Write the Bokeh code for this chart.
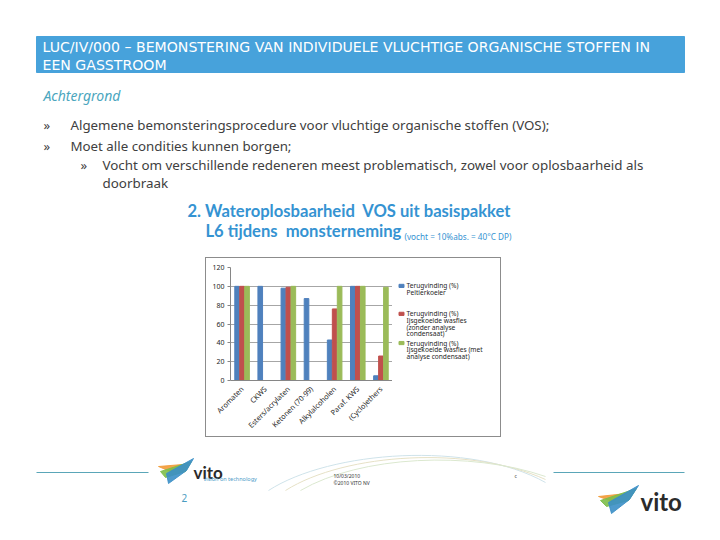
from math import pi
from bokeh.plotting import figure
from bokeh.models import Range1d, FactorRange, Spacer, ColumnDataSource, FixedTicker
from bokeh.layouts import column, row
from bokeh.transform import dodge
from bokeh.core.properties import value
from bokeh.embed import file_html
from bokeh.resources import INLINE

NAN = float("nan")

# ---------------- data ----------------
categories = ["Aromaten", "CKWS", "Esters/acrylaten", "Ketonen (70-99)",
              "Alkylalcoholen", "Paraf. KWS", "(Cyclo)ethers"]
peltierkoeler = [100, 100, 98, 87, 43, 100, 5]
wasfles_zonder = [100, NAN, 99, NAN, 76, 100, 26]
wasfles_met = [100, NAN, 100, NAN, 100, 100, 99]
y_ticks = [0, 20, 40, 60, 80, 100, 120]
series_labels = [
    ["Terugvinding (%)", "Peltierkoeler"],
    ["Terugvinding (%)", "Ijsgekoelde wasfles", "(zonder analyse", "condensaat)"],
    ["Terugvinding (%)", "Ijsgekoelde wasfles (met", "analyse condensaat)"],
]
series_colors = ["#4F81BD", "#C0504D", "#9BBB59"]

header_lines = ["LUC/IV/000 \u2013 BEMONSTERING VAN INDIVIDUELE VLUCHTIGE ORGANISCHE STOFFEN IN",
                "EEN GASSTROOM"]
subtitle = "Achtergrond"
bullets = ["Algemene bemonsteringsprocedure voor vluchtige organische stoffen (VOS);",
           "Moet alle condities kunnen borgen;"]
sub_bullet = ["Vocht om verschillende redeneren meest problematisch, zowel voor oplosbaarheid als",
              "doorbraak"]
chart_title = ["2. Wateroplosbaarheid\u00a0 VOS uit basispakket", "L6 tijdens\u00a0 monsterneming"]
chart_note = "(vocht = 10%abs. = 40\u00b0C DP)"

FONT = "Noto Sans"
W = 704

def blank(width, height, xr, yr):
    f = figure(width=width, height=height, x_range=Range1d(*xr), y_range=Range1d(*yr),
               output_backend="svg", toolbar_location=None, min_border=0,
               outline_line_color=None)
    f.axis.visible = False
    f.grid.visible = False
    return f

# ---------------- top part (slide text) ----------------
top = blank(W, 257, (0, W), (257, 0))
top.quad(left=[36], right=[684], top=[36], bottom=[72], color="#47A2DB")
top.text(x=[42, 42], y=[46, 64], text=header_lines, text_font=value("DejaVu Sans"),
         text_font_size="14.1px", text_color="#FFFFFF", text_baseline="middle")
top.text(x=[43], y=[95], text=[subtitle], text_font=value(FONT), text_font_style="italic",
         text_font_size="14px", text_color="#4BA6BE", text_baseline="middle")
top.text(x=[43, 43], y=[124, 145], text=["\u00bb", "\u00bb"], text_font=value(FONT),
         text_font_size="13px", text_color="#404040", text_baseline="middle")
top.text(x=[70, 70], y=[124, 145], text=bullets, text_font=value(FONT),
         text_font_size="13.3px", text_color="#404040", text_baseline="middle")
top.text(x=[80], y=[164], text=["\u00bb"], text_font=value(FONT),
         text_font_size="13px", text_color="#404040", text_baseline="middle")
top.text(x=[102, 102], y=[164, 182], text=sub_bullet, text_font=value(FONT),
         text_font_size="13.4px", text_color="#404040", text_baseline="middle")
top.text(x=[187, 205], y=[210, 230], text=chart_title, text_font=value("Lato"),
         text_font_style="bold", text_font_size="16.6px", text_color="#3593D2",
         text_baseline="middle")
top.text(x=[404], y=[236], text=[chart_note], text_font=value(FONT),
         text_font_size="8.2px", text_color="#3593D2", text_baseline="middle")

# ---------------- chart ----------------
src = ColumnDataSource(dict(cat=categories, a=peltierkoeler, b=wasfles_zonder, c=wasfles_met))
chart = figure(width=186, height=178, x_range=FactorRange(*categories), y_range=Range1d(0, 120),
               output_backend="svg", toolbar_location=None,
               min_border_left=24, min_border_right=0, min_border_top=9, min_border_bottom=55,
               outline_line_color=None, border_fill_color="white")
off = 0.215
bw = 0.2
renderers = []
for i, col in enumerate(["a", "b", "c"]):
    renderers.append(chart.vbar(x=dodge("cat", (i - 1) * off, range=chart.x_range), top=col,
                                width=bw, source=src, color=series_colors[i]))
chart.yaxis.ticker = FixedTicker(ticks=y_ticks)
chart.xgrid.visible = False
chart.ygrid.grid_line_color = "#A6A6A6"
chart.axis.axis_line_color = "#868686"
chart.axis.major_tick_line_color = "#868686"
chart.axis.major_tick_out = 3
chart.axis.major_tick_in = 0
chart.axis.minor_tick_line_color = None
chart.axis.major_label_text_font = FONT
chart.axis.major_label_text_font_size = "7px"
chart.axis.major_label_text_color = "#262626"
chart.axis.major_label_standoff = 3
chart.xaxis.major_tick_line_color = None
chart.xaxis.major_label_standoff = 4
chart.xaxis.major_label_text_font_size = "7.3px"
chart.xaxis.major_label_orientation = pi / 4
chart.x_range.range_padding = 0

# ---------------- legend panel ----------------
leg = blank(108, 178, (392, 500), (436, 258))
leg.background_fill_color = "white"
sq_x = 401
text_x = 406
item_top = [287, 331, 377]
line_h = 10.5
for i, lines in enumerate(series_labels):
    leg.rect(x=[sq_x], y=[item_top[i]], width=5, height=5, color=series_colors[i])
    leg.text(x=[text_x] * len(lines), y=[item_top[i] + k * line_h for k in range(len(lines))],
             text=lines, text_font=value(FONT), text_font_size="6.6px", text_color="#262626",
             text_baseline="middle")

framed = row(chart, leg, styles={"border": "1px solid #8C8C8C"})
middle = row(Spacer(width=205, height=180), framed, Spacer(width=203, height=180))

# ---------------- footer ----------------
bot = blank(W, 87, (0, W), (524, 437))
bot.segment(x0=[36, 553], y0=[472, 472], x1=[148, 684], y1=[472, 472], line_color="#5AA6B8",
            line_width=1)
bot.bezier(x0=[268, 285, 300], y0=[490, 490, 490], x1=[545, 545, 545], y1=[482, 479, 476],
           cx0=[330, 345, 360], cy0=[450, 452, 455], cx1=[470, 470, 470], cy1=[440, 445, 450],
           line_color=["#cfe3ea", "#e6e1c6", "#dbe8cf"], line_width=1)
bot.patches(xs=[[158, 182, 170], [160, 191, 185, 165], [166, 193, 186, 168]],
            ys=[[466, 464, 471], [471, 461, 471, 477], [473, 458, 470, 483]],
            color=["#F29B38", "#7DBE4A", "#3B8FC6"], alpha=0.9)
bot.text(x=[193], y=[472], text=["vito"], text_font=value("Lato"), text_font_style="bold",
         text_font_size="17px", text_color="#2B2B2B", text_baseline="alphabetic")
bot.text(x=[203], y=[478], text=["vision on technology"], text_font=value(FONT),
         text_font_size="5.5px", text_color="#4B9BC8", text_baseline="middle")
bot.text(x=[333, 333], y=[475, 482], text=["10/03/2010", "\u00a92010 VITO NV"], text_font=value(FONT),
         text_font_size="5px", text_color="#333333", text_baseline="middle")
bot.text(x=[514], y=[475], text=["c"], text_font=value(FONT),
         text_font_size="5px", text_color="#333333", text_baseline="middle")
bot.text(x=[181], y=[497], text=["2"], text_font=value(FONT),
         text_font_size="10px", text_color="#4A9CC0", text_baseline="middle")
bot.patches(xs=[[598, 626, 612], [600, 636, 628, 606], [608, 638, 629, 611]],
            ys=[[496, 493, 501], [500, 488, 500, 506], [502, 485, 499, 513]],
            color=["#F29B38", "#7DBE4A", "#3B8FC6"], alpha=0.9)
bot.text(x=[640], y=[501], text=["vito"], text_font=value("Lato"), text_font_style="bold",
         text_font_size="24px", text_color="#2B2B2B", text_baseline="alphabetic")

page = column(top, middle, bot, spacing=0)
open("out.html", "w").write(file_html(page, INLINE))
